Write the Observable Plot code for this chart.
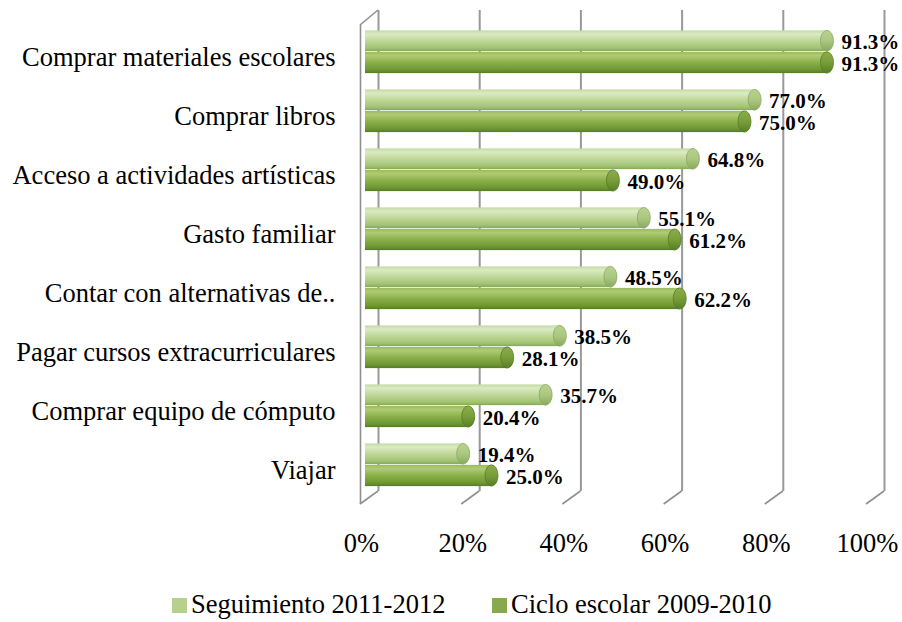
<!DOCTYPE html>
<html>
<head>
<meta charset="utf-8">
<script src="https://cdn.jsdelivr.net/npm/d3@7"></script>
<script src="https://cdn.jsdelivr.net/npm/@observablehq/plot@0.6"></script>
<style>
  body { margin: 0; background: #fff; font-family: 'Liberation Serif', 'Times New Roman', serif; }
  #wrap { width: 902px; position: relative; }
  #legend { position: relative; height: 42px; width: 902px; }
  .item { position: absolute; top: 9px; display: flex; align-items: center; font-size: 26.5px; color: #000; white-space: nowrap; }
  .sw { width: 15px; height: 15px; margin-right: 4px; margin-top: 2px; }
</style>
</head>
<body>
<div id="wrap">
  <div id="chart"></div>
  <div id="legend"></div>
</div>
<script>
const categories = [
  "Comprar materiales escolares",
  "Comprar libros",
  "Acceso a actividades artísticas",
  "Gasto familiar",
  "Contar con alternativas de..",
  "Pagar cursos extracurriculares",
  "Comprar equipo de cómputo",
  "Viajar"
];
const seguimiento = [91.3, 77.0, 64.8, 55.1, 48.5, 38.5, 35.7, 19.4];
const ciclo = [91.3, 75.0, 49.0, 61.2, 62.2, 28.1, 20.4, 25.0];
const xTicks = [0, 20, 40, 60, 80, 100];
const seriesNames = ["Seguimiento 2011-2012", "Ciclo escolar 2009-2010"];

const rows = categories.map((c, i) => ({category: c, seg: seguimiento[i], cic: ciclo[i]}));

const FONT = "'Liberation Serif', 'Times New Roman', serif";
const BACK = 18;

function defs() {
  const d = d3.create("svg:defs");
  const mk = (id, stops) => {
    const g = d.append("linearGradient").attr("id", id).attr("x1", 0).attr("y1", 0).attr("x2", 0).attr("y2", 1);
    stops.forEach(([o, c]) => g.append("stop").attr("offset", o).attr("stop-color", c));
  };
  mk("gLight", [[0, "#c3dba0"], [0.18, "#dbeac5"], [0.5, "#bfd898"], [0.85, "#a2c374"], [1, "#85a859"]]);
  mk("gDark", [[0, "#9bbb5c"], [0.18, "#afcb76"], [0.5, "#8bb049"], [0.85, "#6d9633"], [1, "#567b26"]]);
  mk("gLightCap", [[0, "#b7d28f"], [0.5, "#abc880"], [1, "#89a95d"]]);
  mk("gDarkCap", [[0, "#8aad4b"], [0.5, "#789e3a"], [1, "#587e27"]]);
  return d.node();
}

function wallDiagonals(index, scales, values, dims) {
  const x = scales.x;
  const {height, marginTop, marginBottom} = dims;
  const yBotFront = height - marginBottom + 7;
  const yBotBack = height - marginBottom - 6;
  const g = d3.create("svg:g").attr("stroke", "#8f8f8f").attr("stroke-width", 1.6).attr("fill", "none");
  for (const t of xTicks) {
    g.append("line").attr("x1", x(t)).attr("y1", yBotFront).attr("x2", x(t) + BACK).attr("y2", yBotBack);
  }
  g.append("line").attr("x1", x(0)).attr("y1", marginTop + 6).attr("x2", x(0) + BACK).attr("y2", marginTop - 9);
  return g.node();
}

const lightInset = {insetTop: 8.4, insetBottom: 29.875};
const darkInset = {insetTop: 29.875, insetBottom: 7.9};

const chart = Plot.plot({
  width: 902,
  height: 580,
  marginLeft: 360,
  marginRight: 36,
  marginTop: 19,
  marginBottom: 83,
  style: {fontFamily: FONT, background: "white", overflow: "visible"},
  x: {domain: [0, 100], axis: null},
  y: {domain: categories, axis: null, padding: 0},
  marks: [
    defs,
    Plot.ruleX(xTicks, {x: d => d, dx: BACK, insetTop: -9, insetBottom: 6, stroke: "#999", strokeWidth: 2}),
    Plot.ruleX([0], {x: d => d, insetTop: 6, insetBottom: -7, stroke: "#8f8f8f", strokeWidth: 1.6}),
    wallDiagonals,
    Plot.barX(rows, {y: "category", x1: 0, x2: "seg", dx: 5, fill: "url(#gLight)", ...lightInset}),
    Plot.barX(rows, {y: "category", x1: "seg", x2: "seg", dx: 5, insetLeft: -6.5, insetRight: -6.5, rx: 6.5, ry: 10.8,
      fill: "url(#gLightCap)", stroke: "#8aa760", strokeWidth: 0.8, ...lightInset}),
    Plot.barX(rows, {y: "category", x1: 0, x2: "cic", dx: 5, fill: "url(#gDark)", ...darkInset}),
    Plot.barX(rows, {y: "category", x1: "cic", x2: "cic", dx: 5, insetLeft: -6.5, insetRight: -6.5, rx: 6.5, ry: 11,
      fill: "url(#gDarkCap)", stroke: "#557a26", strokeWidth: 0.8, ...darkInset}),
    Plot.text(rows, {y: "category", x: "seg", text: d => d.seg.toFixed(1) + "%", dx: 19, dy: -10,
      textAnchor: "start", fontWeight: "bold", fontSize: 21, fontFamily: FONT, fill: "#000"}),
    Plot.text(rows, {y: "category", x: "cic", text: d => d.cic.toFixed(1) + "%", dx: 19, dy: 12,
      textAnchor: "start", fontWeight: "bold", fontSize: 21, fontFamily: FONT, fill: "#000"}),
    Plot.text(categories, {y: d => d, text: d => d, frameAnchor: "left", textAnchor: "end", dx: -25, dy: 6,
      fontSize: 26.5, fontFamily: FONT, fill: "#000"}),
    Plot.text(xTicks, {x: d => d, text: d => d + "%", frameAnchor: "bottom", dy: 54, dx: 1,
      fontSize: 26.5, fontFamily: FONT, fill: "#000"})
  ]
});
document.getElementById("chart").appendChild(chart);

const legend = document.getElementById("legend");
const legendItems = [
  {name: seriesNames[0], color: "#b7d08e", left: 172},
  {name: seriesNames[1], color: "#8aa84e", left: 492}
];
for (const it of legendItems) {
  const div = document.createElement("div");
  div.className = "item";
  div.style.left = it.left + "px";
  const sw = document.createElement("span");
  sw.className = "sw";
  sw.style.background = it.color;
  const tx = document.createElement("span");
  tx.textContent = it.name;
  div.appendChild(sw);
  div.appendChild(tx);
  legend.appendChild(div);
}
</script>
</body>
</html>
